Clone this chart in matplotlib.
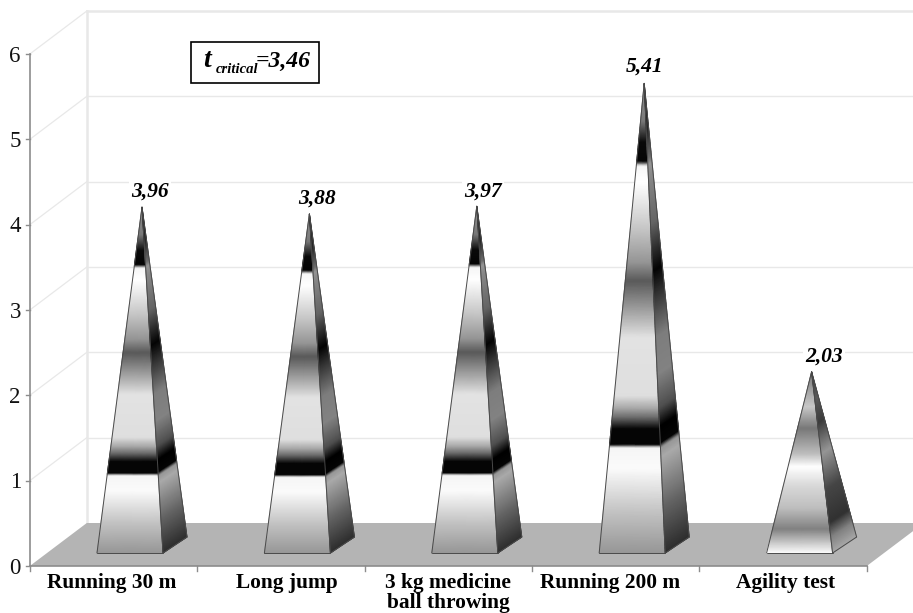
import numpy as np
import matplotlib
matplotlib.use("Agg")
import matplotlib.pyplot as plt
from matplotlib.patches import Polygon, Rectangle

categories = ["Running 30 m", "Long jump", "3 kg medicine\nball throwing", "Running 200 m", "Agility test"]
values = [3.96, 3.88, 3.97, 5.41, 2.03]
value_labels = ["3,96", "3,88", "3,97", "5,41", "2,03"]
yticks = [0, 1, 2, 3, 4, 5, 6]

W, H = 913, 613
PX_X = 167.4      # px per category
PX_Y = 85.33      # px per value unit
X0 = 113.5        # px of first category
Y0 = 566.0        # px of value 0

fig = plt.figure(figsize=(W / 100, H / 100), dpi=100)
ax = fig.add_axes([0, 0, 1, 1])
ax.set_xlim((0 - X0) / PX_X, (W - X0) / PX_X)
ax.set_ylim((Y0 - H) / PX_Y, Y0 / PX_Y)
ax.axis("off")

dx = lambda p: p / PX_X
dy = lambda p: p / PX_Y
xl = -0.5
xr = len(categories) - 0.5
wall_dx, wall_dy = dx(57), dy(43)
SERIF = "Liberation Serif"

# walls
grid = "#e8e8e8"
for v in yticks[1:]:
    ax.plot([xl, xl + wall_dx], [v, v + wall_dy], color=grid, lw=0.9, zorder=1)
    ax.plot([xl + wall_dx, xr + wall_dx], [v + wall_dy, v + wall_dy], color=grid, lw=1.0 if v < 6 else 1.8, zorder=1)
ax.plot([xl + wall_dx] * 2, [wall_dy, 6 + wall_dy], color=grid, lw=1.8, zorder=1)

# floor
ax.add_patch(Polygon([(xl, 0), (xr, 0), (xr + wall_dx, wall_dy), (xl + wall_dx, wall_dy)],
                     closed=True, fc="#b4b4b4", ec="none", zorder=2))

# axes lines
axc = "#8c8c8c"
ax.plot([xl, xl], [0, 6], color=axc, lw=1.2, zorder=3)
ax.plot([xl, xr], [0, 0], color=axc, lw=1.2, zorder=3)
for v in yticks:
    ax.plot([xl - dx(4), xl], [v, v], color=axc, lw=1.0, zorder=3)
    ax.text(xl - dx(9), v - dy(2), str(v), ha="right", va="center", family=SERIF, fontsize=16.5, color="#111111")
for i in range(len(categories) + 1):
    ax.plot([xl + i, xl + i], [0, -dy(5)], color=axc, lw=1.0, zorder=3)

# gradients: (fraction of height, grey)
front_f = [0, .08, .18, .225, .232, .265, .29, .31, .335, .46, .50, .58, .62, .695, .79, .825, .835, .875, .92, 1]
front_c = [150, 190, 250, 245, 5, 5, 110, 170, 222, 226, 180, 90, 150, 200, 255, 245, 5, 10, 120, 150]
side_f = [0, .10, .205, .225, .235, .27, .31, .38, .46, .55, .60, .65, .70, .80, .828, .84, .90, 1]
side_c = [45, 100, 170, 150, 5, 0, 80, 130, 125, 50, 5, 50, 100, 135, 150, 110, 40, 30]
low_front_f = [0, .05, .135, .25, .37, .48, .55, .69, .81, .93, 1]
low_front_c = [255, 210, 130, 190, 215, 255, 190, 120, 200, 150, 120]
low_side_f = [0, .09, .17, .35, .55, .72, .85, 1]
low_side_c = [170, 130, 50, 70, 150, 60, 90, 60]

half_w, base_y = dx(33), dy(13)
off_x, off_y = dx(24), dy(16)
shift = dx(16.5)

def face(p0, p1, apex, fs, cs):
    t = np.linspace(0, 1, 341)
    c = np.interp(t, fs, cs)
    X = np.column_stack([p0[0] + (apex[0] - p0[0]) * t, p1[0] + (apex[0] - p1[0]) * t])
    Y = np.column_stack([p0[1] + (apex[1] - p0[1]) * t, p1[1] + (apex[1] - p1[1]) * t])
    C = np.column_stack([c, c])
    ax.pcolormesh(X, Y, C, cmap="gray", vmin=0, vmax=255, shading="gouraud", zorder=4)

edge = "#4a4a4a"
label_dx = [8, 8, 6, 0, 12]
label_dy = [5, 5, 5, 7, 5]
for i, v in enumerate(values):
    cx = i + shift
    fl = (cx - half_w, base_y)
    fr = (cx + half_w, base_y)
    br = (cx + half_w + off_x, base_y + off_y)
    apex = (cx + off_x / 2, base_y + off_y / 2 + v)
    low = v < 3
    face(fl, fr, apex, low_front_f if low else front_f, low_front_c if low else front_c)
    face(fr, br, apex, low_side_f if low else side_f, low_side_c if low else side_c)
    for a, b in [(fl, apex), (fr, apex), (br, apex), (fr, br), (fl, fr)]:
        ax.plot([a[0], b[0]], [a[1], b[1]], color=edge, lw=0.7, zorder=5, solid_capstyle="round")
    ax.text(apex[0] + dx(label_dx[i]), apex[1] + dy(label_dy[i]), value_labels[i], ha="center", va="bottom",
            family=SERIF, weight="bold", style="italic", fontsize=15.5, color="black", zorder=6,
            bbox=dict(fc="white", ec="none", pad=1.5))

# category labels
cat_dx = [-2, 6, 0, -6, 2]
for i, c in enumerate(categories):
    ax.text(i + dx(cat_dx[i]), -dy(7), c, ha="center", va="top", family=SERIF, weight="bold", fontsize=15.4,
            linespacing=0.98, color="black")

# annotation box
def px(x, y):
    return (x - X0) / PX_X, (Y0 - y) / PX_Y
(bx0, by0), (bx1, by1) = px(191, 83), px(319, 42)
ax.add_patch(Rectangle((bx0, by0), bx1 - bx0, by1 - by0, fc="white", ec="black", lw=1.2, zorder=6))
tkw = dict(family=SERIF, weight="bold", style="italic", color="black", zorder=7, va="baseline", ha="left")
ax.text(*px(203, 67), "t", fontsize=20, **tkw)
ax.text(*px(216, 73), "critical", fontsize=10.5, **tkw)
ax.text(*px(256, 67), "=3,46", fontsize=17, **tkw)

fig.savefig("out.png", dpi=100, facecolor="white")
